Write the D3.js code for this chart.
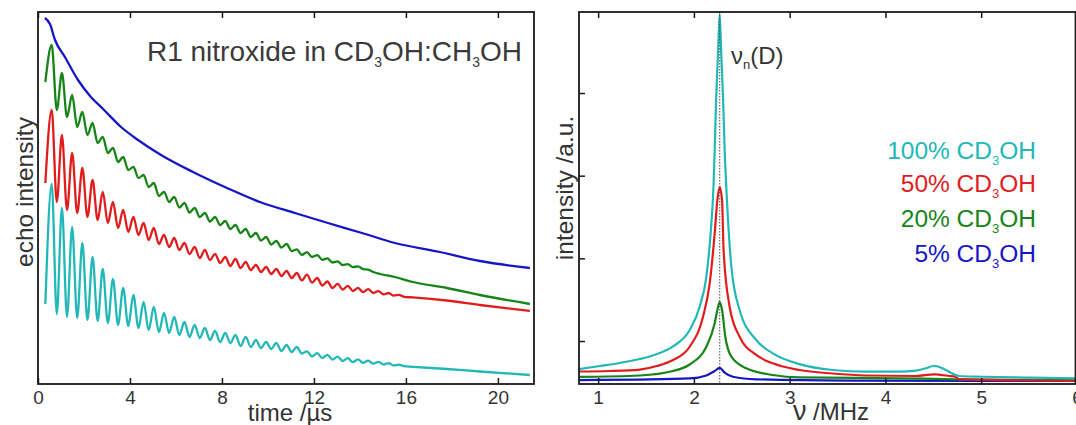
<!DOCTYPE html>
<html><head><meta charset="utf-8">
<script src="https://cdn.jsdelivr.net/npm/d3@7"></script>
<style>
body{margin:0;background:#fff;}
svg{display:block;font-family:"Liberation Sans",Arial,Helvetica,sans-serif;}
</style></head><body>
<svg id="chart" width="1076" height="425"></svg>
<script>
// ---------------- DATA ----------------
const timeTicks = [0, 4, 8, 12, 16, 20];
const freqTicks = [1, 2, 3, 4, 5, 6];
const intensityTicks = [1, 2, 3, 4];
const seriesPercent = ["100%", "50%", "20%", "5%"];
const seriesColors = ["#22b8b8", "#e01c1c", "#178417", "#1616c4"];

// echo decays (left) : extrema of the 2.25 MHz deuterium modulation
const echoStartTime = 0.32, firstPeakTime = 0.596, modPeriod = 0.444;
const cyanEchoStart = 0.80;
const cyanEchoPeaks = [2.00,1.76,1.57,1.41,1.27,1.15,1.05,0.96,0.89,0.82,0.77,0.71,0.67,0.62,0.59,0.56,0.53,0.51,0.49,0.47,0.44,0.42,0.41,0.39,0.37,0.327,0.309,0.292,0.274,0.258,0.246,0.234,0.222,0.208,0.194];
const cyanEchoTroughs = [0.70,0.67,0.66,0.64,0.63,0.61,0.59,0.58,0.56,0.54,0.52,0.51,0.49,0.47,0.46,0.44,0.42,0.41,0.38,0.37,0.36,0.35,0.33,0.32,0.305,0.275,0.26,0.245,0.23,0.219,0.211,0.203,0.194,0.185,0.178];
const cyanEchoTail = [[16.30,0.172],[17.78,0.15],[19.22,0.125],[21.39,0.09]];

const redEchoStart = 2.01;
const redEchoPeaks = [2.74,2.49,2.31,2.16,2.04,1.92,1.82,1.74,1.67,1.61,1.56,1.49,1.46,1.41,1.37,1.34,1.30,1.27,1.25,1.22,1.19,1.17,1.15,1.13,1.11,1.093,1.06,1.025,1.001,0.981,0.962,0.948,0.929,0.91,0.892];
const redEchoTroughs = [1.82,1.74,1.71,1.67,1.64,1.61,1.56,1.52,1.49,1.44,1.40,1.37,1.34,1.30,1.26,1.24,1.21,1.18,1.16,1.14,1.12,1.10,1.08,1.06,1.036,1.014,0.984,0.96,0.944,0.93,0.918,0.91,0.896,0.884,0.872];
const redEchoTail = [[16.30,0.866],[17.78,0.835],[19.22,0.79],[21.39,0.73]];

const greenEchoStart = 3.02;
const greenEchoPeaks = [3.39,3.11,2.89,2.72,2.61,2.47,2.36,2.27,2.17,2.09,2.01,1.92,1.87,1.81,1.76,1.71,1.67,1.63,1.59,1.55,1.51,1.47,1.43,1.40,1.346,1.319,1.289,1.256,1.226,1.198,1.176,1.144];
const greenEchoTroughs = [2.74,2.67,2.57,2.49,2.41,2.31,2.22,2.14,2.06,1.97,1.88,1.82,1.765,1.715,1.67,1.625,1.59,1.55,1.51,1.47,1.435,1.395,1.365,1.33,1.291,1.27,1.242,1.215,1.189,1.169,1.149,1.12];
const greenEchoTail = [[14.87,1.10],[15.52,1.07],[16.30,1.02],[17.78,0.96],[19.22,0.89],[21.39,0.80]];

const blueEcho = [[0.30,3.66],[0.52,3.60],[0.74,3.44],[1.17,3.27],[1.74,3.04],[2.30,2.87],[2.83,2.75],[3.61,2.57],[4.35,2.44],[5.35,2.29],[6.74,2.12],[8.22,1.96],[9.65,1.82],[11.17,1.71],[12.61,1.61],[14.09,1.51],[15.52,1.41],[17.48,1.32],[19.22,1.23],[21.39,1.16]];

// spectra (right) [frequency MHz, intensity a.u.]
const larmorD = 2.27;
const spectrum100 = [[0.80,0.661],[1.019,0.698],[1.227,0.734],[1.435,0.782],[1.609,0.841],[1.782,0.935],[1.956,1.133],[2.060,1.415],[2.130,1.778],[2.175,2.307],[2.206,2.911],[2.217,3.311],[2.232,3.915],[2.253,4.52],[2.269,4.956],[2.284,4.52],[2.305,3.915],[2.321,3.311],[2.345,2.706],[2.391,1.899],[2.477,1.375],[2.651,1.012],[2.824,0.851],[3.102,0.72],[3.449,0.649],[3.797,0.629],[4.144,0.629],[4.318,0.641],[4.422,0.670],[4.508,0.701],[4.595,0.670],[4.682,0.617],[4.734,0.589],[4.769,0.577],[5.011,0.568],[5.532,0.556],[5.985,0.549]];
const spectrum50 = [[0.80,0.631],[1.123,0.637],[1.435,0.655],[1.613,0.698],[1.782,0.770],[1.956,0.931],[2.095,1.294],[2.165,1.698],[2.217,2.303],[2.245,2.706],[2.269,2.863],[2.294,2.706],[2.310,2.101],[2.373,1.415],[2.477,1.052],[2.651,0.831],[2.824,0.730],[3.102,0.649],[3.446,0.607],[3.797,0.583],[4.318,0.577],[4.508,0.597],[4.665,0.577],[4.734,0.565],[4.769,0.540],[5.186,0.528],[5.985,0.516]];
const spectrum20 = [[0.80,0.565],[1.435,0.583],[1.782,0.637],[1.956,0.716],[2.130,0.931],[2.217,1.214],[2.245,1.375],[2.269,1.472],[2.294,1.375],[2.328,1.052],[2.391,0.810],[2.547,0.670],[2.824,0.589],[3.102,0.559],[4.144,0.549],[4.734,0.537],[5.985,0.528]];
const spectrum5 = [[0.80,0.528],[1.435,0.534],[1.956,0.547],[2.130,0.583],[2.217,0.637],[2.269,0.674],[2.321,0.619],[2.407,0.568],[2.651,0.537],[3.623,0.522],[5.985,0.516]];

// ---------------- BUILD ----------------
function echoPoints(start, peaks, troughs, tail) {
  const pts = [[echoStartTime, start]];
  peaks.forEach((p, k) => {
    const t = firstPeakTime + k * modPeriod;
    pts.push([t, p]);
    if (k < troughs.length) pts.push([t + modPeriod / 2, troughs[k]]);
  });
  return pts.concat(tail);
}
const echoSeries = [
  echoPoints(cyanEchoStart, cyanEchoPeaks, cyanEchoTroughs, cyanEchoTail),
  echoPoints(redEchoStart, redEchoPeaks, redEchoTroughs, redEchoTail),
  echoPoints(greenEchoStart, greenEchoPeaks, greenEchoTroughs, greenEchoTail),
  blueEcho
];
const spectra = [spectrum100, spectrum50, spectrum20, spectrum5];

const svg = d3.select("#chart");
const textColor = "#333";
const frameColor = "#1a1a1a";

// ---------- LEFT PANEL ----------
const L = {x0: 38, x1: 534, y0: 12, y1: 384};
const xT = d3.scaleLinear().domain([0, 21.57]).range([L.x0, L.x1]);
const yE = d3.scaleLinear().domain([0, 3.72]).range([L.y1, L.y0]);
const gl = svg.append("g");

const lineE = d3.line().x(d => xT(d[0])).y(d => yE(d[1])).curve(d3.curveMonotoneX);
[3, 2, 1, 0].forEach(i => {
  gl.append("path").attr("d", lineE(echoSeries[i])).attr("fill", "none")
    .attr("stroke", seriesColors[i]).attr("stroke-width", 2.3).attr("stroke-linejoin", "round");
});

const axB = gl.append("g").attr("transform", `translate(0,${L.y1})`)
  .call(d3.axisBottom(xT).tickValues(timeTicks).tickSize(-6).tickPadding(7).tickFormat(d3.format("d")));
const axT = gl.append("g").attr("transform", `translate(0,${L.y0})`)
  .call(d3.axisTop(xT).tickValues(timeTicks).tickSize(-6).tickFormat(""));
[axB, axT].forEach(a => {
  a.select(".domain").remove();
  a.selectAll("line").attr("stroke", frameColor).attr("stroke-width", 1.5);
  a.selectAll("text").attr("fill", textColor).style("font-size", "19px");
});
gl.append("rect").attr("x", L.x0).attr("y", L.y0).attr("width", L.x1 - L.x0).attr("height", L.y1 - L.y0)
  .attr("fill", "none").attr("stroke", frameColor).attr("stroke-width", 1.8);

gl.append("text").attr("x", 290).attr("y", 421).attr("text-anchor", "middle")
  .attr("fill", textColor).style("font-size", "24px").text("time /\u00B5s");
gl.append("text").attr("transform", "translate(33,192) rotate(-90)").attr("text-anchor", "middle")
  .attr("fill", textColor).style("font-size", "24.5px").text("echo intensity");

const title = gl.append("text").attr("x", 522).attr("y", 61).attr("text-anchor", "end")
  .attr("fill", "#3a3a3a").style("font-size", "28px");
title.append("tspan").text("R1 nitroxide in CD");
title.append("tspan").attr("dy", 6).style("font-size", "14px").text("3");
title.append("tspan").attr("dy", -6).text("OH:CH");
title.append("tspan").attr("dy", 6).style("font-size", "14px").text("3");
title.append("tspan").attr("dy", -6).text("OH");

// ---------- RIGHT PANEL ----------
const R = {x0: 579, x1: 1075.5, y0: 12, y1: 384};
const xF = d3.scaleLinear().domain([0.8, 5.985]).range([R.x0, R.x1]);
const yS = d3.scaleLinear().domain([0.48, 4.98]).range([R.y1, R.y0]);
const gr = svg.append("g");

const lineS = d3.line().x(d => xF(d[0])).y(d => yS(d[1])).curve(d3.curveMonotoneX);
[3, 2, 1, 0].forEach(i => {
  gr.append("path").attr("d", lineS(spectra[i])).attr("fill", "none")
    .attr("stroke", seriesColors[i]).attr("stroke-width", 2.2).attr("stroke-linejoin", "round");
});
gr.append("line").attr("x1", xF(larmorD)).attr("x2", xF(larmorD)).attr("y1", R.y0).attr("y2", R.y1)
  .attr("stroke", "#444").attr("stroke-width", 1).attr("stroke-dasharray", "1.5,1.5");

const raB = gr.append("g").attr("transform", `translate(0,${R.y1})`)
  .call(d3.axisBottom(xF).tickValues(freqTicks).tickSize(-6).tickPadding(7).tickFormat(d3.format("d")));
const raT = gr.append("g").attr("transform", `translate(0,${R.y0})`)
  .call(d3.axisTop(xF).tickValues(freqTicks).tickSize(-6).tickFormat(""));
const raL = gr.append("g").attr("transform", `translate(${R.x0},0)`)
  .call(d3.axisLeft(yS).tickValues(intensityTicks).tickSize(-6).tickFormat(""));
[raB, raT, raL].forEach(a => {
  a.select(".domain").remove();
  a.selectAll("line").attr("stroke", frameColor).attr("stroke-width", 1.5);
  a.selectAll("text").attr("fill", textColor).style("font-size", "19px");
});
gr.append("rect").attr("x", R.x0).attr("y", R.y0).attr("width", R.x1 - R.x0).attr("height", R.y1 - R.y0)
  .attr("fill", "none").attr("stroke", frameColor).attr("stroke-width", 1.8);

const xl = gr.append("text").attr("x", 831).attr("y", 420).attr("text-anchor", "middle")
  .attr("fill", textColor).style("font-size", "24px");
xl.append("tspan").style("font-size", "27px").text("\u03BD");
xl.append("tspan").text(" /MHz");
gr.append("text").attr("transform", "translate(573,188) rotate(-90)").attr("text-anchor", "middle")
  .attr("fill", textColor).style("font-size", "24.5px").text("intensity /a.u.");

const nu = gr.append("text").attr("x", 731).attr("y", 64).attr("fill", textColor).style("font-size", "24px");
nu.append("tspan").text("\u03BD");
nu.append("tspan").attr("dy", 5).style("font-size", "13px").text("n");
nu.append("tspan").attr("dy", -5).text("(D)");

const legendY = [159, 192, 227, 262];
seriesPercent.forEach((p, i) => {
  const t = gr.append("text").attr("x", 1036).attr("y", legendY[i]).attr("text-anchor", "end")
    .attr("fill", seriesColors[i]).style("font-size", "24.5px");
  t.append("tspan").text(p + " CD");
  t.append("tspan").attr("dy", 6).style("font-size", "13px").text("3");
  t.append("tspan").attr("dy", -6).text("OH");
});
</script>
</body></html>
